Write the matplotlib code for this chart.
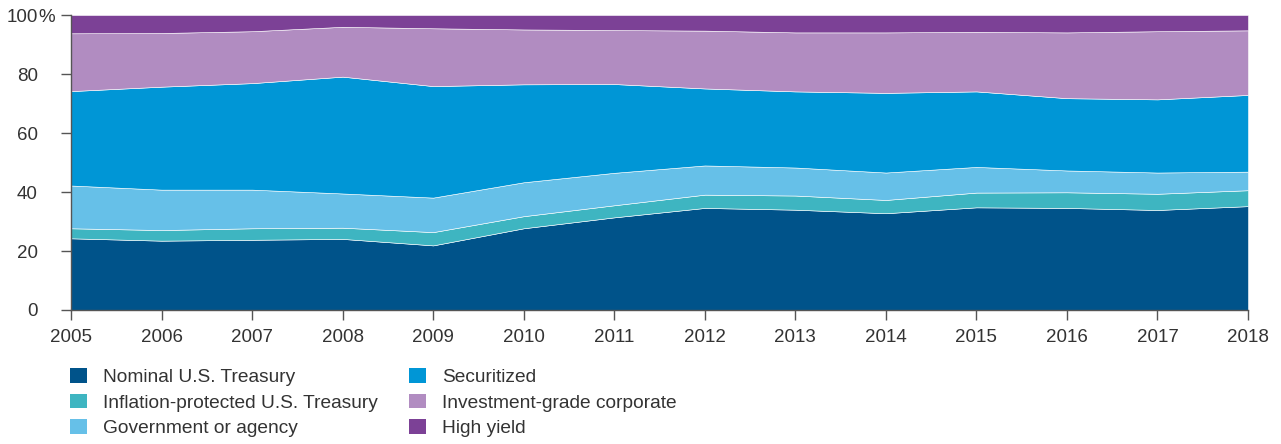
import matplotlib
matplotlib.use("Agg")
import matplotlib.pyplot as plt
from matplotlib.patches import Patch
from matplotlib.transforms import offset_copy

years = list(range(2005, 2019))
nominal = [24.3, 23.5, 23.8, 24.1, 21.9, 27.7, 31.4, 34.6, 34.0, 32.8, 34.8, 34.6, 33.9, 35.2]
tips = [3.4, 3.6, 3.9, 3.8, 4.5, 4.1, 4.1, 4.5, 4.8, 4.5, 5.0, 5.3, 5.5, 5.4]
gov = [14.5, 13.7, 13.1, 11.6, 11.7, 11.5, 11.0, 9.9, 9.5, 9.3, 8.7, 7.4, 7.2, 6.3]
securitized = [32.0, 34.9, 36.1, 39.6, 37.8, 33.2, 30.1, 26.1, 25.8, 27.0, 25.6, 24.5, 24.8, 26.0]
ig_corp = [19.6, 18.2, 17.6, 16.9, 19.6, 18.6, 18.3, 19.6, 20.0, 20.5, 20.2, 22.3, 23.1, 21.9]
high_yield = [6.2, 6.1, 5.5, 4.0, 4.5, 4.9, 5.1, 5.3, 5.9, 5.9, 5.7, 5.9, 5.5, 5.2]

labels = ["Nominal U.S. Treasury", "Inflation-protected U.S. Treasury",
          "Government or agency", "Securitized", "Investment-grade corporate", "High yield"]
colors = ["#00538A", "#3EB5C1", "#66C0E8", "#0096D6", "#B18CC1", "#7C4196"]
yticks = [0, 20, 40, 60, 80, 100]
ytick_labels = ["0", "20", "40", "60", "80", "100"]

plt.rcParams['font.family'] = ['Liberation Sans', 'DejaVu Sans']
text_color = "#333333"
fs = 13.5

fig = plt.figure(figsize=(12.81, 4.44), dpi=100)
ax = fig.add_axes([71/1281, 1-310/444, (1248-71)/1281, (310-15)/444])

series = [nominal, tips, gov, securitized, ig_corp, high_yield]
ax.stackplot(years, *series, colors=colors, labels=labels,
             edgecolor="white", linewidth=0.4)

ax.set_xlim(2005, 2018)
ax.set_ylim(0, 100)
ax.set_xticks(years)
ax.set_xticklabels([str(y) for y in years])
ax.set_yticks(yticks)
ax.set_yticklabels(ytick_labels)

for s in ["top", "right"]:
    ax.spines[s].set_visible(False)
for s in ["left", "bottom"]:
    ax.spines[s].set_color("#555555")
    ax.spines[s].set_linewidth(1.0)
ax.tick_params(axis="both", colors="#555555", labelcolor=text_color, labelsize=fs,
               length=7, width=1.0, direction="out")
ax.tick_params(axis="x", pad=7)
ax.tick_params(axis="y", pad=17)

# percent sign hanging after the top label
pct_tr = offset_copy(ax.get_yaxis_transform(), fig=fig, x=-33, y=0, units='dots')
ax.text(0, 100, "%", transform=pct_tr, ha="left", va="center_baseline",
        fontsize=fs, color=text_color, clip_on=False)

handles = [Patch(facecolor=c, edgecolor="none") for c in colors]
fig.legend(handles, labels, ncol=2, loc="upper left",
           bbox_to_anchor=(70/1281, 1-368/444), frameon=False,
           prop={'size': 13.8}, handlelength=0.9, handleheight=0.8,
           handletextpad=0.8, labelspacing=0.4, columnspacing=1.65,
           borderpad=0, borderaxespad=0, labelcolor=text_color)

fig.savefig("out.png", dpi=100)
